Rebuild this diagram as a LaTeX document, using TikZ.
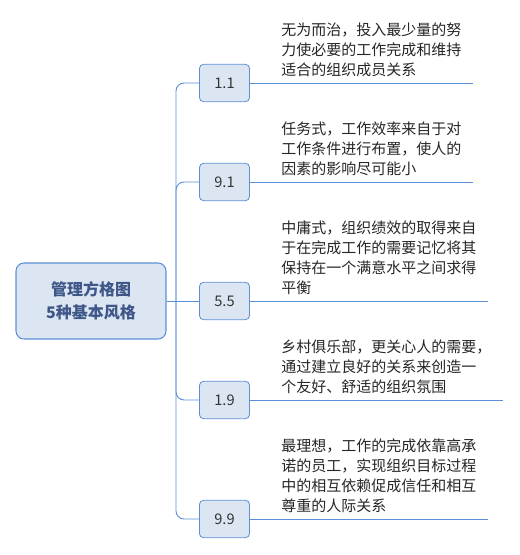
\documentclass[tikz,border=0pt]{standalone}
\usepackage{fontspec}
\setmainfont{Noto Sans CJK SC}
\usepackage{tikz}
\usepackage{xcolor}
\usetikzlibrary{positioning}
\definecolor{mapline}{HTML}{5B8FD6}
\definecolor{mapfill}{HTML}{DCE6F2}
\definecolor{roottext}{HTML}{3E5788}
\tikzset{
  rootbox/.style = {
    rectangle,
    draw=mapline,
    fill=mapfill,
    line width=0.8pt,
    rounded corners=6pt,
    align=center,
    text=roottext,
    font=\fontsize{12pt}{17pt}\selectfont\bfseries,
    minimum width=112.5pt,
    minimum height=57pt
  },
  gradebox/.style = {
    rectangle,
    draw=mapline,
    fill=mapfill,
    line width=0.6pt,
    rounded corners=3pt,
    align=center,
    text=black!80,
    font=\fontsize{11pt}{13pt}\selectfont,
    minimum width=37.5pt,
    minimum height=28pt
  },
  desctext/.style = {
    anchor=south west,
    align=left,
    inner sep=0pt,
    text=black!85,
    font=\fontsize{11.25pt}{15pt}\selectfont
  },
  branch/.style = {
    draw=mapline,
    line width=0.7pt
  }
}
\begin{document}
\begin{tikzpicture}[x=0.75pt,y=-0.75pt]
    \useasboundingbox (0,0) rectangle (519,555);
    \node[rootbox] (root) at (91,301) {管理方格图\\5种基本风格};
    \node[gradebox] (b11) at (224.5,83) {1.1};
    \node[gradebox] (b91) at (224.5,182) {9.1};
    \node[gradebox] (b55) at (224.5,301) {5.5};
    \node[gradebox] (b19) at (224.5,400) {1.9};
    \node[gradebox] (b99) at (224.5,519) {9.9};
    \coordinate (spine) at (176,301);
    \coordinate (e11) at (473,83);
    \coordinate (e91) at (473,182);
    \coordinate (e55) at (488,301);
    \coordinate (e19) at (503,400);
    \coordinate (e99) at (488,519);
    \node[desctext] (t11) at (281,77) {无为而治，投入最少量的努\\力使必要的工作完成和维持\\适合的组织成员关系};
    \node[desctext] (t91) at (281,176) {任务式，工作效率来自于对\\工作条件进行布置，使人的\\因素的影响尽可能小};
    \node[desctext] (t55) at (281,295) {中庸式，组织绩效的取得来自\\于在完成工作的需要记忆将其\\保持在一个满意水平之间求得\\平衡};
    \node[desctext] (t19) at (281,394) {乡村俱乐部，更关心人的需要，\\通过建立良好的关系来创造一\\个友好、舒适的组织氛围};
    \node[desctext] (t99) at (281,513) {最理想，工作的完成依靠高承\\诺的员工，实现组织目标过程\\中的相互依赖促成信任和相互\\尊重的人际关系};
    \draw[branch] (root.east) -- (b55.west);
    \draw[branch, rounded corners=6pt] (spine) |- (b11.west);
    \draw[branch, rounded corners=6pt] (spine) |- (b91.west);
    \draw[branch, rounded corners=6pt] (spine) |- (b19.west);
    \draw[branch, rounded corners=6pt] (spine) |- (b99.west);
    \draw[branch] (b11.east) -- (e11);
    \draw[branch] (b91.east) -- (e91);
    \draw[branch] (b55.east) -- (e55);
    \draw[branch] (b19.east) -- (e19);
    \draw[branch] (b99.east) -- (e99);
  \end{tikzpicture}
\end{document}
